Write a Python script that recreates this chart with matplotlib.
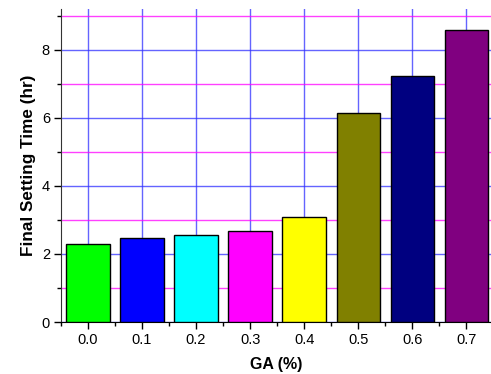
import numpy as np
import matplotlib
matplotlib.use('Agg')
import matplotlib.pyplot as plt
from matplotlib.ticker import MultipleLocator

plt.rcParams['font.family'] = ['Liberation Sans', 'DejaVu Sans']

ga_labels = ['0.0', '0.1', '0.2', '0.3', '0.4', '0.5', '0.6', '0.7']
setting_time = [2.28, 2.48, 2.56, 2.68, 3.08, 6.13, 7.22, 8.58]
bar_colors = ['#00FF00', '#0000FF', '#00FFFF', '#FF00FF',
              '#FFFF00', '#808000', '#000080', '#800080']

fig = plt.figure(figsize=(4.91, 3.74), dpi=100)
ax = fig.add_axes([61 / 491, 52 / 374, 430 / 491, 313 / 374])

x = np.arange(len(ga_labels))

# grid first so bars sit on top
ax.set_axisbelow(True)
ax.yaxis.set_major_locator(MultipleLocator(2))
ax.yaxis.set_minor_locator(MultipleLocator(1))
ax.xaxis.set_major_locator(MultipleLocator(1))
ax.xaxis.set_minor_locator(MultipleLocator(0.5))
ax.grid(True, which='major', axis='both', color='#3030FF', alpha=0.75, lw=1)
ax.grid(True, which='minor', axis='y', color='#FF00FF', alpha=0.75, lw=1)

ax.bar(x, setting_time, width=0.8, color=bar_colors, edgecolor='black',
       linewidth=1, zorder=3)

ax.set_xlim(-0.5, 7.46)
ax.set_ylim(0, 9.2)
ax.set_xticks(x)
ax.set_xticklabels(ga_labels)

ax.spines['top'].set_visible(False)
ax.spines['right'].set_visible(False)
ax.spines['left'].set_color('#333333')

ax.tick_params(which='major', direction='out', length=5, width=1,
               labelsize=10.5, pad=3)
ax.tick_params(which='minor', direction='out', length=3, width=1)

ax.set_xlabel('GA (%)', fontsize=11.5, fontweight='bold', labelpad=7)
ax.set_ylabel('Final Setting Time (hr)', fontsize=12.3, fontweight='bold',
              labelpad=4)

fig.savefig('out.png', dpi=100)
